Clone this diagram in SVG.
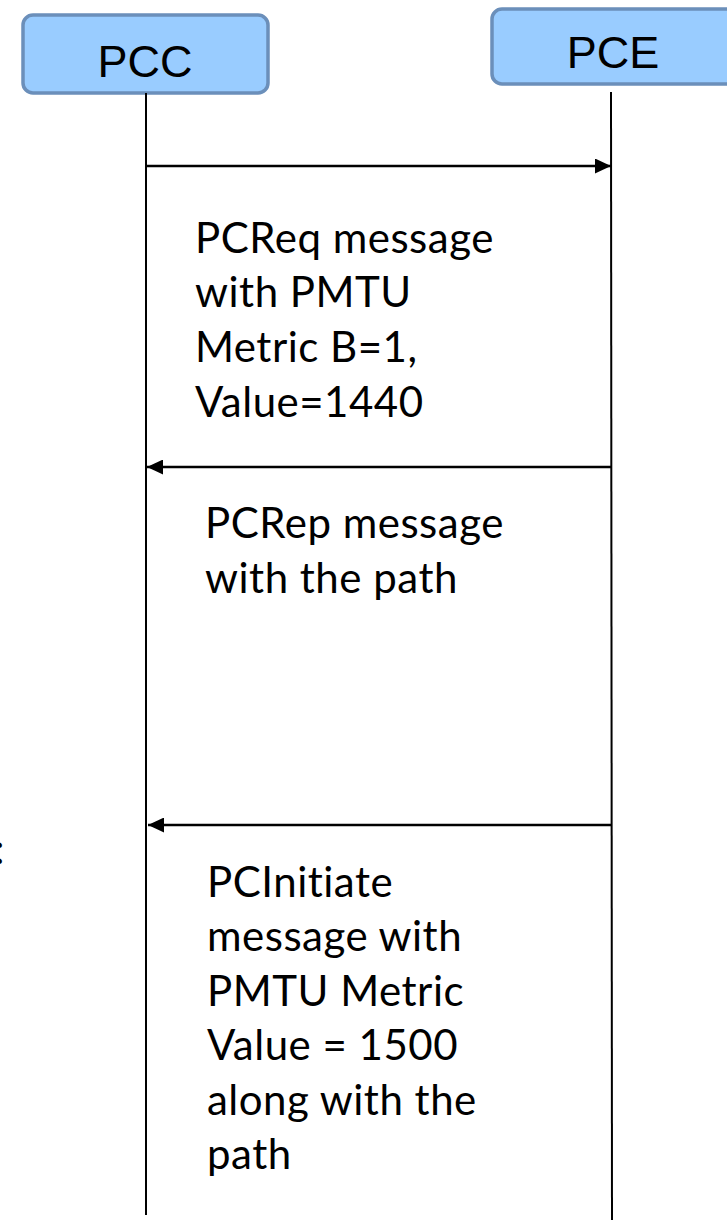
<svg xmlns="http://www.w3.org/2000/svg" width="727" height="1229" viewBox="0 0 727 1229">
<style>
.box{fill:#99ccff;stroke:#6b8fba;stroke-width:3.5}
.ttl{font-family:"Liberation Sans",Arial,sans-serif;font-size:45px;fill:#000;text-anchor:middle}
.life{stroke:#000;stroke-width:2;fill:none}
.msg{stroke:#000;stroke-width:2.5;fill:none}
.lbl{font-family:Lato,"Open Sans",sans-serif;font-size:42px;letter-spacing:0.5px;fill:#000}
</style>
<defs>
<marker id="ah" viewBox="0 0 16 15" refX="16" refY="7.5" markerWidth="16" markerHeight="15" markerUnits="userSpaceOnUse" orient="auto">
<path d="M0,0 L16,7.5 L0,15 Z" fill="#000"/>
</marker>
</defs>
<g id="PCC">
<rect class="box" x="23" y="15" width="245" height="78" rx="10"/>
<text class="ttl" x="145" y="77">PCC</text>
</g>
<g id="PCE">
<rect class="box" x="492" y="9" width="250" height="75" rx="10"/>
<text class="ttl" x="613" y="68">PCE</text>
</g>
<g id="connectors">
<line class="life" x1="146" y1="93" x2="146" y2="1215"/>
<line class="life" x1="611" y1="92" x2="612" y2="1220"/>
<line class="msg" x1="146" y1="166" x2="611" y2="166" marker-end="url(#ah)"/>
<line class="msg" x1="611" y1="467" x2="147" y2="467" marker-end="url(#ah)"/>
<line class="msg" x1="612" y1="825" x2="148" y2="825" marker-end="url(#ah)"/>
</g>
<g id="label1">
<text class="lbl" x="195" y="253">PCReq message</text>
<text class="lbl" x="195" y="307">with PMTU</text>
<text class="lbl" x="195" y="362">Metric B=1,</text>
<text class="lbl" x="195" y="417">Value=1440</text>
</g>
<g id="label2">
<text class="lbl" x="205" y="538">PCRep message</text>
<text class="lbl" x="205" y="593">with the path</text>
</g>
<g id="label3">
<text class="lbl" x="207" y="897">PCInitiate</text>
<text class="lbl" x="207" y="951">message with</text>
<text class="lbl" x="207" y="1006">PMTU Metric</text>
<text class="lbl" x="207" y="1060">Value = 1500</text>
<text class="lbl" x="207" y="1115">along with the</text>
<text class="lbl" x="207" y="1169">path</text>
</g>
<text class="lbl" x="-6" y="864">:</text>
</svg>
